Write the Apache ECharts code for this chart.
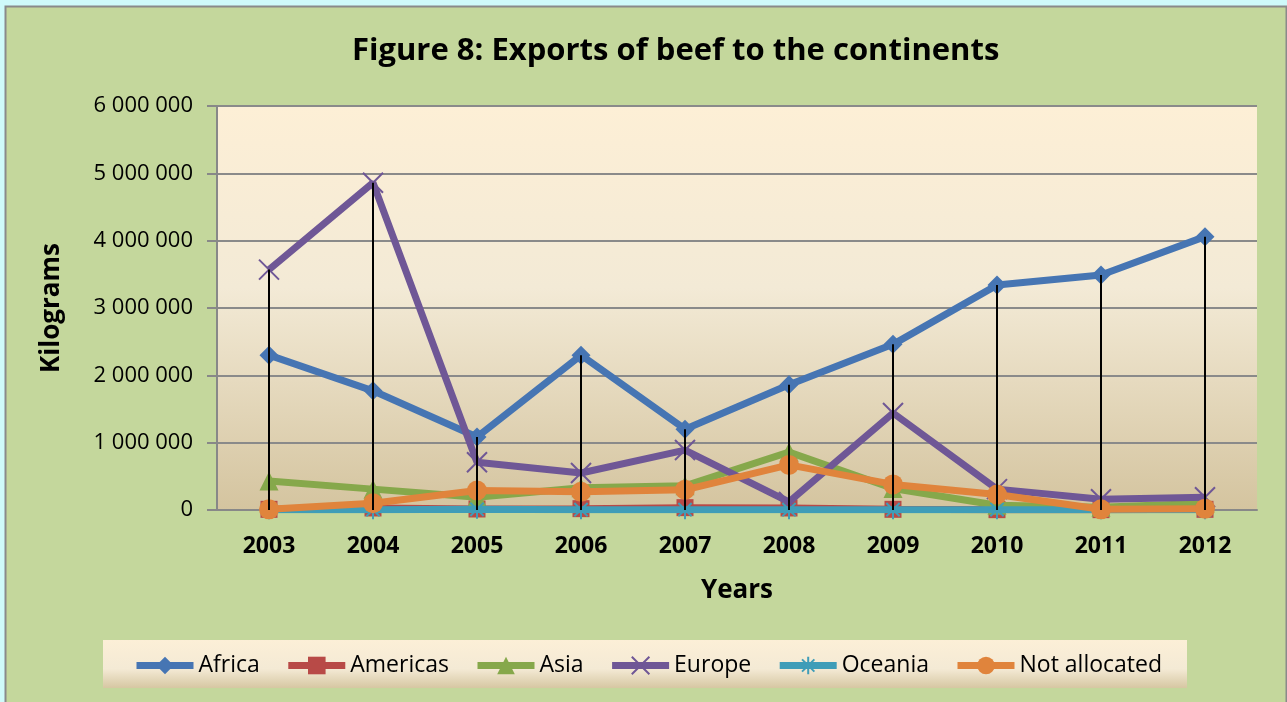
<!DOCTYPE html>
<html><head><meta charset="utf-8">
<script src="https://cdn.jsdelivr.net/npm/echarts@6/dist/echarts.min.js"></script>
<style>html,body{margin:0;padding:0;background:#cffafa;}#c{width:1287px;height:702px;}</style>
</head><body><div id="c"></div>
<script>
const years = ['2003','2004','2005','2006','2007','2008','2009','2010','2011','2012'];
const africa = [2300000,1770000,1085000,2300000,1200000,1860000,2460000,3340000,3490000,4060000];
const americas = [10000,30000,15000,20000,35000,30000,10000,5000,5000,10000];
const asia = [430000,310000,190000,330000,360000,860000,320000,70000,40000,100000];
const europe = [3570000,4860000,710000,550000,890000,120000,1440000,310000,160000,190000];
const oceania = [5000,5000,10000,5000,5000,5000,5000,5000,5000,5000];
const notAllocated = [10000,100000,290000,270000,300000,670000,380000,230000,10000,20000];
const yTicks = [0,1000000,2000000,3000000,4000000,5000000,6000000];

const font = '"Open Sans", "DejaVu Sans", sans-serif';
const colors = ['#4675b3','#b84a47','#86a84b','#6f5796','#3f9db8','#e0843c'];
const names = ['Africa','Americas','Asia','Europe','Oceania','Not allocated'];
const datas = [africa, americas, asia, europe, oceania, notAllocated];
const symbols = ['diamond','rect','triangle','path://M0,0L10,10M10,0L0,10','path://M5,0L5,10M0,5L10,5M1.5,1.5L8.5,8.5M8.5,1.5L1.5,8.5','circle'];
const sizes = [19,17,19,20,19,20];
const maxVals = years.map((y,i)=>Math.max(...datas.map(d=>d[i])));

const series = names.map((n,k)=>({
  name:n, type:'line', data:datas[k], symbol:symbols[k], symbolSize:sizes[k],
  lineStyle:{color:colors[k], width:7},
  itemStyle:{color:colors[k], borderColor:colors[k], borderWidth:(k===3||k===4)?2:0},
  z:2+k
}));
series.push({
  type:'custom', name:'drop', data:maxVals.map((v,i)=>[i,v]), z:20, silent:true,
  renderItem:function(params, api){
    const top = api.coord([api.value(0), api.value(1)]);
    const bot = api.coord([api.value(0), 0]);
    return {type:'line', shape:{x1:top[0],y1:top[1],x2:bot[0],y2:bot[1]}, style:{stroke:'#000', lineWidth:2}};
  }
});

const chart = echarts.init(document.getElementById('c'));
chart.setOption({
  backgroundColor:'transparent',
  animation:false,
  graphic:[
    {type:'rect', shape:{x:5.5,y:6.5,width:1281,height:700}, style:{fill:'#c4d79c', stroke:'#8a8a8a', lineWidth:2}, z:-10},
    {type:'rect', shape:{x:103,y:640,width:1084,height:48}, style:{fill:new echarts.graphic.LinearGradient(0,0,0,1,[{offset:0,color:'#fcefd7'},{offset:0.6,color:'#f4ead5'},{offset:1,color:'#d6c7a2'}])}, z:-5}
  ],
  title:{text:'Figure 8: Exports of beef to the continents', left:347, top:31,
    textStyle:{fontFamily:font, fontWeight:'bold', fontSize:31, color:'#000'}},
  grid:{left:217, right:30, top:106, bottom:192, show:true, borderWidth:0,
    backgroundColor:new echarts.graphic.LinearGradient(0,0,0,1,[{offset:0,color:'#fdefd6'},{offset:0.45,color:'#f3ead6'},{offset:1,color:'#d4c49f'}])},
  xAxis:{type:'category', data:years, boundaryGap:true,
    name:'Years', nameLocation:'middle', nameGap:68,
    nameTextStyle:{fontFamily:font, fontWeight:'bold', fontSize:26, color:'#000'},
    axisLine:{lineStyle:{color:'#888', width:2}}, axisTick:{show:false},
    axisLabel:{fontFamily:font, fontWeight:'bold', fontSize:23, color:'#000', margin:25}},
  yAxis:{type:'value', min:0, max:6000000, interval:1000000,
    name:'Kilograms', nameLocation:'middle', nameGap:152, nameRotate:90,
    nameTextStyle:{fontFamily:font, fontWeight:'bold', fontSize:26, color:'#000'},
    axisLine:{show:true, lineStyle:{color:'#888', width:2}},
    axisTick:{show:true, length:10, lineStyle:{color:'#888', width:2}},
    splitLine:{lineStyle:{color:'#8a8a8a', width:2}},
    axisLabel:{fontFamily:font, fontSize:22, color:'#000', margin:24,
      formatter:v=>String(v).replace(/\B(?=(\d{3})+(?!\d))/g,' ')}},
  legend:{data:names, top:649, left:128, itemWidth:57, itemHeight:22, itemGap:25,
    lineStyle:{width:7},
    textStyle:{fontFamily:font, fontSize:23, color:'#000'}},
  series:series
});
</script></body></html>
